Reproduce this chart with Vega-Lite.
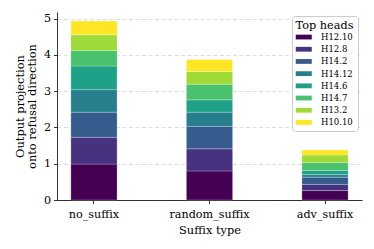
{
  "$schema": "https://vega.github.io/schema/vega-lite/v6.json",
  "width": 305,
  "height": 188,
  "autosize": {"type": "none"},
  "padding": {"left": 57, "top": 12, "right": 12, "bottom": 49},
  "background": "white",
  "config": {
    "font": "DejaVu Serif",
    "view": {"stroke": null},
    "axis": {
      "labelFont": "DejaVu Serif",
      "titleFont": "DejaVu Serif",
      "labelFontSize": 11.2,
      "titleFontSize": 11.4,
      "titleFontWeight": "normal",
      "labelColor": "#000",
      "titleColor": "#000",
      "domainColor": "#000",
      "tickColor": "#000",
      "domainWidth": 0.8,
      "tickWidth": 0.8,
      "tickSize": 3.5,
      "labelPadding": 3
    }
  },
  "data": {
    "values": [
      {"suffix": "no_suffix", "head": "H12.10", "order": 1, "value": 0.99},
      {"suffix": "no_suffix", "head": "H12.8", "order": 2, "value": 0.74},
      {"suffix": "no_suffix", "head": "H14.2", "order": 3, "value": 0.69},
      {"suffix": "no_suffix", "head": "H14.12", "order": 4, "value": 0.62},
      {"suffix": "no_suffix", "head": "H14.6", "order": 5, "value": 0.65},
      {"suffix": "no_suffix", "head": "H14.7", "order": 6, "value": 0.43},
      {"suffix": "no_suffix", "head": "H13.2", "order": 7, "value": 0.43},
      {"suffix": "no_suffix", "head": "H10.10", "order": 8, "value": 0.38},
      {"suffix": "random_suffix", "head": "H12.10", "order": 1, "value": 0.80},
      {"suffix": "random_suffix", "head": "H12.8", "order": 2, "value": 0.61},
      {"suffix": "random_suffix", "head": "H14.2", "order": 3, "value": 0.62},
      {"suffix": "random_suffix", "head": "H14.12", "order": 4, "value": 0.39},
      {"suffix": "random_suffix", "head": "H14.6", "order": 5, "value": 0.34},
      {"suffix": "random_suffix", "head": "H14.7", "order": 6, "value": 0.43},
      {"suffix": "random_suffix", "head": "H13.2", "order": 7, "value": 0.35},
      {"suffix": "random_suffix", "head": "H10.10", "order": 8, "value": 0.33},
      {"suffix": "adv_suffix", "head": "H12.10", "order": 1, "value": 0.26},
      {"suffix": "adv_suffix", "head": "H12.8", "order": 2, "value": 0.17},
      {"suffix": "adv_suffix", "head": "H14.2", "order": 3, "value": 0.20},
      {"suffix": "adv_suffix", "head": "H14.12", "order": 4, "value": 0.07},
      {"suffix": "adv_suffix", "head": "H14.6", "order": 5, "value": 0.11},
      {"suffix": "adv_suffix", "head": "H14.7", "order": 6, "value": 0.22},
      {"suffix": "adv_suffix", "head": "H13.2", "order": 7, "value": 0.21},
      {"suffix": "adv_suffix", "head": "H10.10", "order": 8, "value": 0.14}
    ]
  },
  "mark": {"type": "bar", "stroke": "white", "strokeWidth": 0.4, "strokeOpacity": 0.6},
  "encoding": {
    "x": {
      "field": "suffix",
      "type": "nominal",
      "sort": ["no_suffix", "random_suffix", "adv_suffix"],
      "scale": {"paddingInner": 0.6, "paddingOuter": 0.12},
      "axis": {"title": "Suffix type", "labelAngle": 0, "labelPadding": 4.5, "titlePadding": 5, "grid": false}
    },
    "y": {
      "field": "value",
      "type": "quantitative",
      "aggregate": "sum",
      "stack": "zero",
      "scale": {"domain": [0, 5.18], "nice": false, "zero": true},
      "axis": {
        "title": ["Output projection", "onto refusal direction"],
        "values": [0, 1, 2, 3, 4, 5],
        "grid": true,
        "gridColor": "#d0d0d0",
        "gridDash": [4, 2.5],
        "gridWidth": 0.7,
        "titlePadding": 6,
        "titleLineHeight": 11.5
      }
    },
    "order": {"field": "order", "type": "quantitative", "sort": "ascending"},
    "color": {
      "field": "head",
      "type": "nominal",
      "sort": ["H12.10", "H12.8", "H14.2", "H14.12", "H14.6", "H14.7", "H13.2", "H10.10"],
      "scale": {
        "domain": ["H12.10", "H12.8", "H14.2", "H14.12", "H14.6", "H14.7", "H13.2", "H10.10"],
        "range": ["#440154", "#46327e", "#365c8d", "#277f8e", "#1fa187", "#4ac16d", "#a0da39", "#fde725"]
      },
      "legend": {
        "title": "Top heads",
        "orient": "none",
        "legendX": 235,
        "legendY": 4,
        "titleFontSize": 11.3,
        "titleFont": "DejaVu Serif",
        "titleFontWeight": "normal",
        "titleColor": "#000",
        "titleAnchor": "middle",
        "titlePadding": 2,
        "labelFont": "DejaVu Serif",
        "labelFontSize": 8.5,
        "labelColor": "#000",
        "symbolType": "M-2.67,-0.8H2.67V0.8H-2.67Z",
        "symbolSize": 36,
        "symbolStrokeWidth": 0,
        "symbolOpacity": 1,
        "symbolOffset": 4,
        "labelOffset": 13,
        "rowPadding": 3.2,
        "padding": 3.5,
        "strokeColor": "#cccccc",
        "fillColor": "white",
        "cornerRadius": 3
      }
    }
  }
}
